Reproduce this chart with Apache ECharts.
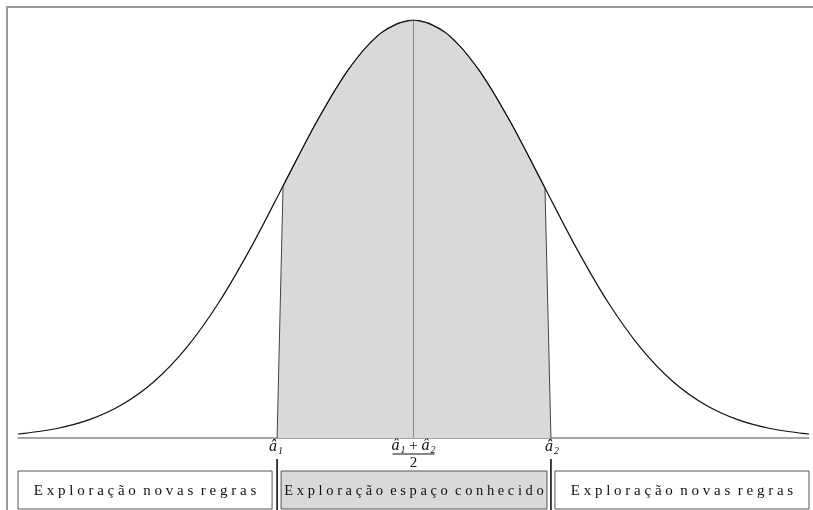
<!DOCTYPE html>
<html><head><meta charset="utf-8">
<script src="https://cdn.jsdelivr.net/npm/echarts@6/dist/echarts.min.js"></script>
<style>html,body{margin:0;padding:0;background:#fff}#c{width:813px;height:510px}</style>
</head><body><div id="c"></div>
<script>
// Bell curve (x in standard-deviation units, height relative to peak)
var curveX = [-3.05,-3.0,-2.75,-2.5,-2.25,-2.0,-1.75,-1.5,-1.25,-1.0,-0.75,-0.5,-0.25,0,0.25,0.5,0.75,1.0,1.25,1.5,1.75,2.0,2.25,2.5,2.75,3.0,3.05];
var curveY = [0.0096,0.0111,0.0228,0.0439,0.0796,0.1353,0.2163,0.3247,0.4578,0.6065,0.7548,0.8825,0.9692,1.0,0.9692,0.8825,0.7548,0.6065,0.4578,0.3247,0.2163,0.1353,0.0796,0.0439,0.0228,0.0111,0.0096];
// Shaded region ("known space") outline
var shadeX = [-1.052,-1.006,-0.875,-0.75,-0.625,-0.5,-0.375,-0.25,-0.125,0,0.125,0.25,0.375,0.5,0.625,0.75,0.875,1.014,1.06];
var shadeY = [0,0.603,0.6819,0.7548,0.8226,0.8825,0.9321,0.9692,0.9922,1.0,0.9922,0.9692,0.9321,0.8825,0.8226,0.7548,0.6819,0.598,0];
// Marker positions
var a1 = -1.052, aMid = 0, a2 = 1.06;
var boxLabels = ["E x p l o r a ç ã o  n o v a s  r e g r a s", "E x p l o r a ç ã o  e s p a ç o  c o n h e c i d o", "E x p l o r a ç ã o  n o v a s  r e g r a s"];

function zip(a,b){return a.map(function(v,i){return [v,b[i]];});}

var chart = echarts.init(document.getElementById('c'));
var serif = '"Liberation Serif","DejaVu Serif",serif';
chart.setOption({
  animation:false,
  grid:{left:18,right:4,top:20,bottom:72},
  xAxis:{type:'value',min:-3.05,max:3.05,axisLine:{show:true,onZero:false,lineStyle:{color:'#888',width:1.5}},axisTick:{show:false},axisLabel:{show:false},splitLine:{show:false}},
  yAxis:{type:'value',min:0,max:1,show:false},
  series:[
    {type:'line',data:zip(shadeX,shadeY),symbol:'none',smooth:false,lineStyle:{color:'#444',width:1},areaStyle:{color:'#d9d9d9',opacity:1},z:2},
    {type:'line',data:[[aMid,0],[aMid,1]],symbol:'none',lineStyle:{color:'#888',width:1},z:3},
    {type:'line',data:zip(curveX,curveY),symbol:'none',smooth:0.3,lineStyle:{color:'#111',width:1.2},z:4}
  ]
});

function px(x){return chart.convertToPixel({xAxisIndex:0},x);}
var xs = px(curveX[0]), xe = px(curveX[curveX.length-1]);
var p1 = px(a1), pm = px(aMid), p2 = px(a2);
var boxTop = 471, boxBot = 509;
var boxes = [[xs,p1-5],[p1+4,p2-4],[p2+4,xe]];
var fills = ['#fff','#d9d9d9','#fff'];
var fontSizes = [15,14.5,15];
var g = [];
g.push({type:'polyline',shape:{points:[[7,510],[7,7],[813,7]]},style:{stroke:'#999',lineWidth:2,fill:null}});
boxes.forEach(function(b,i){
  g.push({type:'rect',shape:{x:b[0],y:boxTop,width:b[1]-b[0],height:boxBot-boxTop},style:{fill:fills[i],stroke:'#555',lineWidth:1}});
  g.push({type:'text',x:(b[0]+b[1])/2,y:(boxTop+boxBot)/2+1,style:{text:boxLabels[i],font:fontSizes[i]+'px '+serif,fill:'#111',align:'center',verticalAlign:'middle'}});
});
[p1,p2].forEach(function(p){
  g.push({type:'line',shape:{x1:p,y1:459,x2:p,y2:510},style:{stroke:'#000',lineWidth:1.5}});
});
function lab(x,y,sub){
  return {type:'text',x:x,y:y,style:{text:'{a|â}{s|'+sub+'}',align:'center',verticalAlign:'middle',rich:{a:{font:'italic 16px '+serif,fill:'#111'},s:{font:'italic 10px '+serif,fill:'#111',padding:[8,0,0,1]}}}};
}
g.push(lab(p1-1,447,'1'));
g.push(lab(p2+1,447,'2'));
g.push({type:'text',x:pm,y:446,style:{text:'{a|â}{s|1}{o| + }{a|â}{s|2}',align:'center',verticalAlign:'middle',rich:{a:{font:'italic 16px '+serif,fill:'#111'},s:{font:'italic 10px '+serif,fill:'#111',padding:[8,0,0,1]},o:{font:'15px '+serif,fill:'#111'}}}});
g.push({type:'line',shape:{x1:pm-21,y1:454,x2:pm+21,y2:454},style:{stroke:'#111',lineWidth:1}});
g.push({type:'text',x:pm,y:463,style:{text:'2',font:'15px '+serif,fill:'#111',align:'center',verticalAlign:'middle'}});
chart.setOption({graphic:g});
</script></body></html>
